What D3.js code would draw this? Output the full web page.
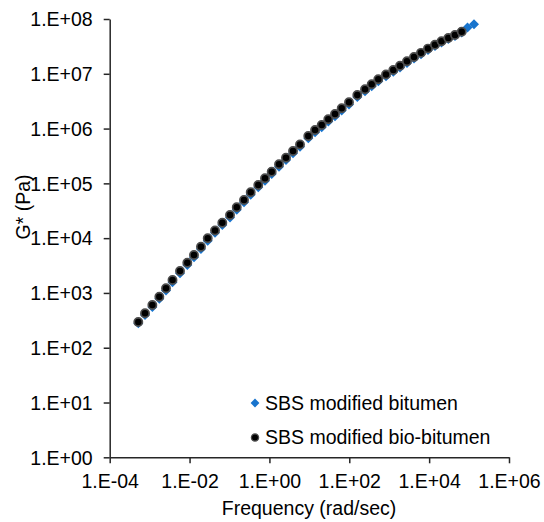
<!DOCTYPE html>
<html>
<head>
<meta charset="utf-8">
<script src="https://cdn.jsdelivr.net/npm/d3@7"></script>
<style>
  body { margin: 0; background: #fff; }
  svg text { font-family: "Liberation Sans", Arial, sans-serif; fill: #000; }
</style>
</head>
<body>
<div id="chart"></div>
<script>
const width = 544;
const height = 522;

// frequency (rad/sec)
const freq = [
  5.20e-4, 7.66e-4, 1.17e-3, 1.75e-3, 2.57e-3, 3.74e-3, 5.76e-3, 8.78e-3,
  1.29e-2, 1.93e-2, 2.85e-2, 4.34e-2, 6.61e-2, 0.103, 0.152, 0.231,
  0.340, 0.526, 0.775, 1.14, 1.74, 2.60, 3.90, 5.83,
  9.41, 13.9, 20.4, 29.8, 43.9, 64.6, 98.4, 159,
  248, 364, 533, 831, 1266, 1864, 2790, 4180,
  6250, 9360, 14000, 20400, 30200, 44400, 65400
];

// G* (Pa) of the SBS modified bio-bitumen (black circles)
const gBio = [
  295, 425, 602, 854, 1215, 1722, 2513, 3562,
  4925, 6980, 9930, 13790, 19130, 26440, 36550, 49690,
  68640, 93300, 123600, 163100, 222700, 293900, 389500, 511900,
  731500, 941200, 1161000, 1476000, 1844000, 2343000, 3016000, 4099000,
  5206000, 6425000, 7925000, 9700000, 11720000, 13980000, 16890000, 20240000,
  24130000, 28800000, 33800000, 39140000, 44980000, 51020000, 58600000
];

// SBS modified bitumen (blue diamonds): sits just under the black curve, goes two points further
const freqSbs = freq.concat([91400, 133000]);
const gSbs = [
  280, 395, 555, 785, 1110, 1570, 2290, 3240,
  4480, 6330, 9000, 12500, 17300, 23900, 33100, 45000,
  62100, 84500, 112000, 147800, 202000, 266500, 353000, 464000,
  663000, 855000, 1055000, 1343000, 1680000, 2140000, 2760000, 3760000,
  4780000, 5920000, 7320000, 9000000, 10900000, 13050000, 15800000, 19000000,
  22750000, 27250000, 32100000, 37300000, 43100000, 49200000, 57000000,
  69900000, 80000000
];

const xTicks = [1e-4, 1e-2, 1e0, 1e2, 1e4, 1e6];
const yTicks = [1e0, 1e1, 1e2, 1e3, 1e4, 1e5, 1e6, 1e7, 1e8];

const seriesNames = ["SBS modified bitumen", "SBS modified bio-bitumen"];

const svg = d3.select("#chart")
  .append("svg")
  .attr("width", width)
  .attr("height", height);

const x = d3.scaleLog().domain([1e-4, 1e6]).range([109.7, 509]);
const y = d3.scaleLog().domain([1, 1e8]).range([457.3, 19]);

// excel style "1.E+04"
function sci(v) {
  const e = Math.round(Math.log10(v));
  const s = e < 0 ? "-" : "+";
  return "1.E" + s + String(Math.abs(e)).padStart(2, "0");
}

const axisColor = "#262626";
const fontSize = "19.5px";

const xAxis = svg.append("g")
  .attr("transform", `translate(0,${y(1)})`)
  .call(d3.axisBottom(x).tickValues(xTicks).tickFormat(sci).tickSize(6).tickSizeOuter(0));
const yAxis = svg.append("g")
  .attr("transform", `translate(${x(1e-4)},0)`)
  .call(d3.axisLeft(y).tickValues(yTicks).tickFormat(sci).tickSize(6).tickSizeOuter(0));

[xAxis, yAxis].forEach(g => {
  g.select(".domain").attr("stroke", axisColor).attr("stroke-width", 1.5);
  g.selectAll(".tick line").attr("stroke", axisColor).attr("stroke-width", 1.5);
  g.selectAll(".tick text").style("font-size", fontSize).attr("fill", "#000");
});
xAxis.selectAll(".tick text").attr("dy", null).attr("y", 30.5);
yAxis.selectAll(".tick text").attr("x", -17).attr("dy", "0.35em");

// axis titles
svg.append("text")
  .attr("x", 309).attr("y", 515)
  .attr("text-anchor", "middle")
  .style("font-size", fontSize)
  .text("Frequency (rad/sec)");

svg.append("text")
  .attr("transform", "translate(30,207) rotate(-90)")
  .attr("text-anchor", "middle")
  .style("font-size", fontSize)
  .text("G* (Pa)");

const blue = "#1874CD";
const diamond = r => `M0,${-r}L${r},0L0,${r}L${-r},0Z`;

// blue diamonds underneath
svg.append("g")
  .selectAll("path")
  .data(gSbs.map((g, i) => [freqSbs[i], g]))
  .join("path")
  .attr("d", diamond(5))
  .attr("transform", d => `translate(${x(d[0])},${y(d[1])})`)
  .attr("fill", blue);

// black circles on top
svg.append("g")
  .selectAll("circle")
  .data(gBio.map((g, i) => [freq[i], g]))
  .join("circle")
  .attr("cx", d => x(d[0]))
  .attr("cy", d => y(d[1]))
  .attr("r", 4.1)
  .attr("fill", "#000")
  .attr("stroke", "#4d4d4d")
  .attr("stroke-width", 1.7);

// legend
const legend = svg.append("g");
const legendY = [403, 437.5];

legend.append("path")
  .attr("d", diamond(4.4))
  .attr("transform", `translate(255,${legendY[0]})`)
  .attr("fill", blue);
legend.append("circle")
  .attr("cx", 255).attr("cy", legendY[1])
  .attr("r", 3.6)
  .attr("fill", "#000")
  .attr("stroke", "#4d4d4d")
  .attr("stroke-width", 1.3);

legend.selectAll("text")
  .data(seriesNames)
  .join("text")
  .attr("x", 265)
  .attr("y", (d, i) => legendY[i])
  .attr("dy", "0.35em")
  .style("font-size", fontSize)
  .text(d => d);
</script>
</body>
</html>
